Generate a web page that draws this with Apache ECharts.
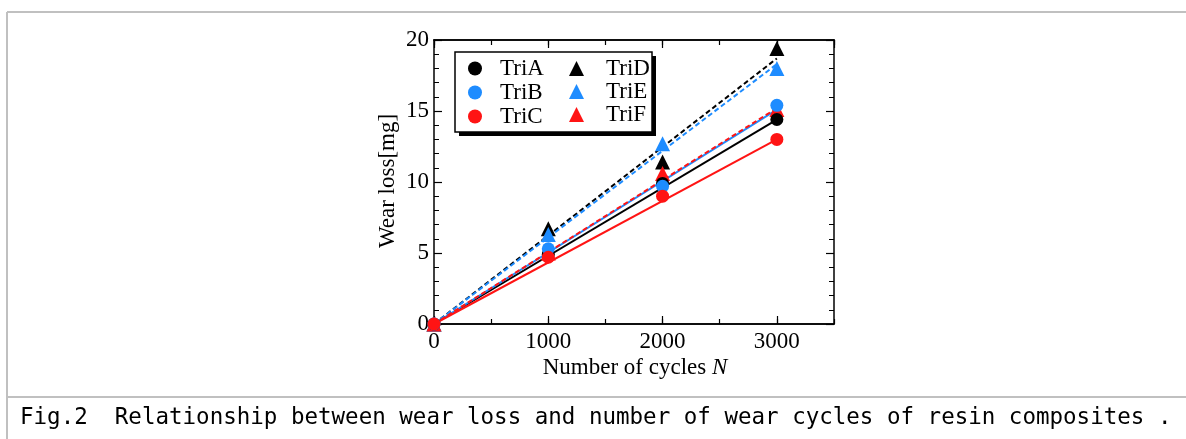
<!DOCTYPE html>
<html>
<head>
<meta charset="utf-8">
<script src="https://cdn.jsdelivr.net/npm/echarts@6/dist/echarts.min.js"></script>
<style>
  html, body { margin: 0; padding: 0; background: #fff; }
  #chart { width: 1186px; height: 439px; }
</style>
</head>
<body>
<div id="chart"></div>
<script>
// 摩耗試験データ (サイクル数 → 摩耗量 mg)
const cycles = [0, 1000, 2000, 3000];
const triA = [0, 4.9, 9.9, 14.4];
const triB = [0, 5.3, 9.7, 15.4];
const triC = [0, 4.7, 9.0, 13.0];
const triD = [0, 6.7, 11.4, 19.4];
const triE = [0, 6.3, 12.7, 18.0];
const triF = [0, 5.0, 10.6, 15.1];
// 近似直線 (N=0 と N=3000 の値)
const fitCycles = [0, 3000];
const fitA = [0, 14.4];
const fitB = [0, 15.1];
const fitC = [0, 13.0];
const fitD = [0, 18.7];
const fitE = [0, 18.3];
const fitF = [0, 15.2];
const xTicks = [0, 1000, 2000, 3000];

const BLACK = '#000000', BLUE = '#1e8cff', RED = '#ff1414';
const SERIF = '"Liberation Serif", "DejaVu Serif", serif';

const pts = (xs, ys) => xs.map((x, i) => [x, ys[i]]);

function scatter(name, ys, color, symbol) {
    return {
        name: name, type: 'scatter', data: pts(cycles, ys),
        symbol: symbol, symbolSize: symbol === 'circle' ? 13 : 15,
        itemStyle: { color: color, opacity: 1 }, z: 5
    };
}
function fit(ys, color, dashed) {
    return {
        type: 'line', data: pts(fitCycles, ys), symbol: 'none', silent: true,
        lineStyle: { color: color, width: 2, type: dashed ? [5, 3] : 'solid' }, z: 3
    };
}

// 目盛り付きの軸（内向き）
function xAx(pos, interval, len, labels) {
    return {
        type: 'value', position: pos, min: 0, max: 3500, interval: interval,
        axisLine: { show: true, onZero: false, lineStyle: { color: '#000', width: 1.5 } },
        axisTick: { show: true, inside: true, length: len, lineStyle: { color: '#000', width: 1.2 } },
        axisLabel: labels ? {
            show: true, margin: 6, color: '#000', fontFamily: SERIF, fontSize: 23,
            showMaxLabel: false,
            formatter: v => xTicks.indexOf(v) >= 0 ? String(v) : ''
        } : { show: false },
        splitLine: { show: false }
    };
}
function yAx(pos, labels) {
    return {
        type: 'value', position: pos, min: 0, max: 20, interval: 5,
        axisLine: { show: true, onZero: false, lineStyle: { color: '#000', width: 1.5 } },
        axisTick: { show: true, inside: true, length: 8, lineStyle: { color: '#000', width: 1.2 } },
        minorTick: { show: true, splitNumber: 5, length: 5, lineStyle: { color: '#000', width: 1 } },
        axisLabel: labels ? { show: true, margin: 5, color: '#000', fontFamily: SERIF, fontSize: 23 } : { show: false },
        splitLine: { show: false }
    };
}

const chart = echarts.init(document.getElementById('chart'));
chart.setOption({
    backgroundColor: '#fff',
    animation: false,
    grid: { left: 434, top: 40, right: 352, bottom: 115 },
    xAxis: [
        xAx('bottom', 1000, 8, true),
        xAx('bottom', 500, 5, false),
        xAx('top', 1000, 8, false),
        xAx('top', 500, 5, false)
    ],
    yAxis: [yAx('left', true), yAx('right', false)],
    legend: [
        {
            data: ['TriA', 'TriB', 'TriC'], orient: 'vertical', left: 468, top: 57,
            itemWidth: 14, itemHeight: 14, itemGap: 1, padding: 0, z: 10,
            textStyle: { fontFamily: SERIF, fontSize: 23, color: '#000', lineHeight: 23, padding: [0, 0, 0, 13] }
        },
        {
            data: ['TriD', 'TriE', 'TriF'], orient: 'vertical', left: 569, top: 57,
            itemWidth: 15, itemHeight: 15, itemGap: 0, padding: 0, z: 10,
            textStyle: { fontFamily: SERIF, fontSize: 23, color: '#000', lineHeight: 23, padding: [0, 0, 0, 17] }
        }
    ],
    series: [
        fit(fitA, BLACK, false), fit(fitB, BLUE, false), fit(fitC, RED, false),
        fit(fitD, BLACK, true), fit(fitE, BLUE, true), fit(fitF, RED, true),
        scatter('TriD', triD, BLACK, 'triangle'),
        scatter('TriE', triE, BLUE, 'triangle'),
        scatter('TriF', triF, RED, 'triangle'),
        scatter('TriA', triA, BLACK, 'circle'),
        scatter('TriB', triB, BLUE, 'circle'),
        scatter('TriC', triC, RED, 'circle')
    ],
    graphic: [
        // 外枠
        { type: 'line', shape: { x1: 7, y1: 12, x2: 7, y2: 439 }, style: { stroke: '#c0c0c0', lineWidth: 2 } },
        { type: 'line', shape: { x1: 7, y1: 12, x2: 1186, y2: 12 }, style: { stroke: '#c0c0c0', lineWidth: 2 } },
        { type: 'line', shape: { x1: 7, y1: 397, x2: 1186, y2: 397 }, style: { stroke: '#c0c0c0', lineWidth: 2 } },
        // 凡例の枠（影つき）
        { type: 'rect', z: 6, shape: { x: 459, y: 56, width: 197, height: 80 }, style: { fill: '#000' } },
        {
            type: 'rect', z: 7, shape: { x: 455, y: 52, width: 197, height: 80 },
            style: { fill: '#fff', stroke: '#000', lineWidth: 1.5 }
        },
        {
            type: 'text', x: 388, y: 181, rotation: Math.PI / 2,
            style: { text: 'Wear loss[mg]', font: '23px ' + SERIF, fill: '#000', align: 'center', verticalAlign: 'middle' }
        },
        {
            type: 'text', x: 635, y: 368,
            style: {
                text: 'Number of cycles {i|N}', font: '23px ' + SERIF, fill: '#000', align: 'center', verticalAlign: 'middle',
                rich: { i: { fontStyle: 'italic', fontFamily: SERIF, fontSize: 23 } }
            }
        },
        {
            type: 'text', x: 20, y: 418,
            style: {
                text: 'Fig.2  Relationship between wear loss and number of wear cycles of resin composites .',
                font: '22.5px "DejaVu Sans Mono", monospace', fill: '#000', align: 'left', verticalAlign: 'middle'
            }
        }
    ]
});
</script>
</body>
</html>
